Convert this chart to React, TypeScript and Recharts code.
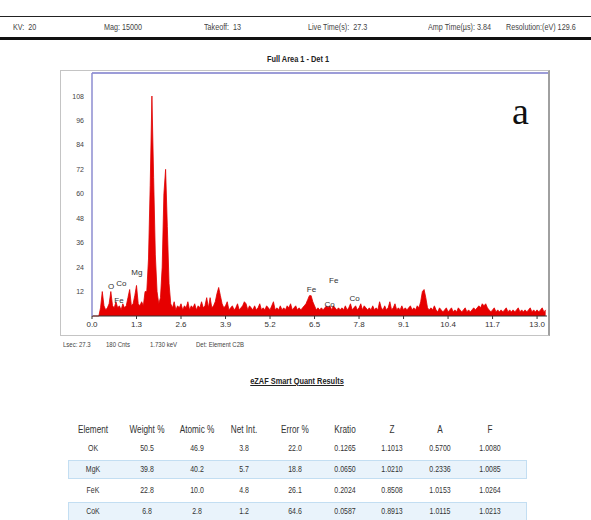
import { AreaChart, Area, XAxis, YAxis, ReferenceDot } from "recharts";

// EDS spectrum, one value per 0.05 keV channel
const channelWidth = 0.05;
const counts = [
  0, 0, 0, 0, 0, 4, 12, 5, 3, 4, 6, 12, 5, 4, 7, 4, 5, 3, 6, 4,
  5, 9, 13, 5, 6, 10, 15, 6, 5, 7, 5, 12, 12, 28, 64, 108, 68, 30, 12, 6,
  9, 24, 60, 72, 44, 16, 6, 4, 7, 3, 5, 4, 6, 3, 5, 4, 7, 3, 5, 4,
  6, 3, 5, 4, 7, 4, 5, 9, 4, 9, 4, 5, 7, 11, 14, 10, 6, 4, 5, 7,
  3, 4, 5, 3, 4, 6, 3, 4, 5, 7, 6, 3, 5, 4, 3, 5, 3, 4, 6, 3,
  4, 3, 5, 4, 3, 5, 7, 3, 4, 3, 5, 3, 4, 3, 5, 4, 6, 3, 4, 5,
  3, 4, 3, 4, 5, 6, 8, 10, 10, 7, 5, 3, 4, 3, 4, 3, 4, 5, 4, 5,
  3, 5, 4, 3, 4, 3, 4, 3, 5, 3, 4, 6, 3, 4, 5, 3, 4, 6, 3, 5,
  4, 3, 4, 3, 5, 3, 4, 3, 7, 4, 3, 5, 3, 4, 7, 3, 4, 6, 3, 4,
  3, 5, 3, 4, 3, 4, 5, 3, 4, 3, 5, 4, 7, 12, 13, 9, 4, 3, 4, 3,
  5, 3, 2, 4, 3, 2, 3, 4, 2, 3, 4, 2, 3, 2, 4, 3, 2, 3, 4, 2,
  3, 2, 3, 4, 3, 4, 5, 4, 6, 5, 6, 4, 3, 2, 3, 4, 2, 3, 2, 3,
  2, 3, 4, 2, 3, 2, 3, 2, 3, 4, 2, 3, 2, 3, 2, 3, 4, 2, 3, 2,
  3, 2, 3, 4, 2, 3,
];

const xTicks = [0, 1.3, 2.6, 3.9, 5.2, 6.5, 7.8, 9.1, 10.4, 11.7, 13.0];
const yTicks = [12, 24, 36, 48, 60, 72, 84, 96, 108];

const peakNames = ["O", "Co", "Fe", "Mg", "Fe", "Co", "Fe", "Co"];
const peakKeV = [0.56, 0.86, 0.79, 1.31, 6.41, 6.94, 7.06, 7.67];
const peakCnt = [14.5, 16, 8, 21.5, 13, 6, 17.6, 8.8];

const headerLabels = ["KV:  20", "Mag: 15000", "Takeoff:  13", "Live Time(s):  27.3", "Amp Time(µs): 3.84", "Resolution:(eV) 129.6"];
const footerLabels = ["Lsec: 27.3", "180 Cnts", "1.730 keV", "Det: Element C2B"];

const columns = ["Element", "Weight %", "Atomic %", "Net Int.", "Error %", "Kratio", "Z", "A", "F"];
const elements = ["OK", "MgK", "FeK", "CoK"];
const weightPct = ["50.5", "39.8", "22.8", "6.8"];
const atomicPct = ["46.9", "40.2", "10.0", "2.8"];
const netInt = ["3.8", "5.7", "4.8", "1.2"];
const errorPct = ["22.0", "18.8", "26.1", "64.6"];
const kratio = ["0.1265", "0.0650", "0.2024", "0.0587"];
const zFactor = ["1.1013", "1.0210", "0.8508", "0.8913"];
const aFactor = ["0.5700", "0.2336", "1.0153", "1.0115"];
const fFactor = ["1.0080", "1.0085", "1.0264", "1.0213"];

const spectrum = counts.map((c, i) => ({ keV: +(i * channelWidth).toFixed(2), cnt: c }));

const font = "'Liberation Sans', Arial, sans-serif";
const narrow = { transform: "scaleX(0.8)", transformOrigin: "left center" } as const;
const narrowC = { transform: "scaleX(0.82)", transformOrigin: "center center" } as const;
const headerX = [13, 104, 204, 308, 428, 506];
const footerX = [63, 106, 150, 196];
const colX = [93, 147, 197, 244, 295, 345, 392, 440, 490];
const rowY = [449, 470, 491, 512];

export default function App() {
  const rows = elements.map((el, i) => [
    el, weightPct[i], atomicPct[i], netInt[i], errorPct[i], kratio[i], zFactor[i], aFactor[i], fFactor[i],
  ]);

  return (
    <div
      style={{
        position: "absolute",
        left: 0,
        top: 0,
        width: 591,
        height: 520,
        background: "#fff",
        overflow: "hidden",
        fontFamily: font,
        color: "#333",
      }}
    >
      {/* header strip */}
      <div style={{ position: "absolute", left: 0, top: 16, width: 591, borderTop: "1.5px solid #222" }} />
      <div style={{ position: "absolute", left: 0, top: 37, width: 591, borderTop: "3px solid #111" }} />
      {headerLabels.map((t, i) => (
        <div
          key={t}
          style={{ position: "absolute", left: headerX[i], top: 22, fontSize: 9, whiteSpace: "pre", color: "#444", ...narrow }}
        >
          {t}
        </div>
      ))}

      <div
        style={{
          position: "absolute",
          left: 0,
          width: 596,
          top: 54,
          textAlign: "center",
          fontSize: 9,
          fontWeight: "bold",
          color: "#222",
          ...narrowC,
        }}
      >
        Full Area 1 - Det 1
      </div>

      {/* spectrum frame */}
      <div
        style={{
          position: "absolute",
          left: 60,
          top: 70,
          width: 487,
          height: 264,
          border: "1px solid #c4c4c4",
          borderRight: "2px solid #a0a0a0",
        }}
      />
      <div style={{ position: "absolute", left: 92, top: 72, width: 456, borderTop: "2px solid #9c9cd8" }} />

      <div style={{ position: "absolute", left: 0, top: 0 }}>
        <AreaChart width={591} height={340} data={spectrum} margin={{ top: 73, right: 44, bottom: 5, left: 60 }}>
          <XAxis
            dataKey="keV"
            type="number"
            domain={[0, 13.29]}
            ticks={xTicks}
            tickFormatter={(v: number) => v.toFixed(1)}
            height={19}
            stroke="#333"
            tick={{ fontSize: 8, fill: "#333", fontFamily: font }}
            tickSize={3}
            interval={0}
          />
          <YAxis
            type="number"
            domain={[0, 119.3]}
            ticks={yTicks}
            width={32}
            axisLine={{ stroke: "#8c8cd0", strokeWidth: 1.5 }}
            tickLine={false}
            tick={{ fontSize: 7, fill: "#444", fontFamily: font }}
            interval={0}
          />
          <Area
            type="linear"
            dataKey="cnt"
            stroke="#e00000"
            strokeWidth={0.8}
            fill="#e60000"
            fillOpacity={1}
            isAnimationActive={false}
            dot={false}
            activeDot={false}
          />
          {peakNames.map((n, i) => (
            <ReferenceDot
              key={n + i}
              x={peakKeV[i]}
              y={peakCnt[i]}
              r={0}
              fill="none"
              stroke="none"
              ifOverflow="visible"
              label={{ value: n, position: "center", fontSize: 8, fill: "#333", fontFamily: font }}
            />
          ))}
        </AreaChart>
      </div>

      <div
        style={{
          position: "absolute",
          left: 512,
          top: 92,
          fontSize: 38,
          fontFamily: "'Liberation Serif', 'DejaVu Serif', serif",
          color: "#111",
          lineHeight: 1,
        }}
      >
        a
      </div>

      {footerLabels.map((t, i) => (
        <div key={t} style={{ position: "absolute", left: footerX[i], top: 340, fontSize: 7.5, color: "#444", ...narrow }}>
          {t}
        </div>
      ))}

      {/* quant results table */}
      <div
        style={{
          position: "absolute",
          left: 0,
          width: 594,
          top: 376,
          textAlign: "center",
          fontSize: 9,
          fontWeight: "bold",
          textDecoration: "underline",
          color: "#222",
          ...narrowC,
        }}
      >
        eZAF Smart Quant Results
      </div>

      {[1, 3].map((r) => (
        <div
          key={r}
          style={{
            position: "absolute",
            left: 68,
            top: rowY[r] - 10,
            width: 459,
            height: 19,
            background: "#e9f3fb",
            border: "1px solid #c3def2",
            boxSizing: "border-box",
          }}
        />
      ))}

      {columns.map((c, j) => (
        <div
          key={c}
          style={{
            position: "absolute",
            left: colX[j] - 30,
            width: 60,
            top: 424,
            textAlign: "center",
            fontSize: 10,
            color: "#333",
            ...narrowC,
          }}
        >
          {c}
        </div>
      ))}
      {rows.map((row, i) =>
        row.map((v, j) => (
          <div
            key={i + "-" + j}
            style={{
              position: "absolute",
              left: colX[j] - 30,
              width: 60,
              top: rowY[i] - 6,
              textAlign: "center",
              fontSize: 8.5,
              color: "#333",
              ...narrowC,
            }}
          >
            {v}
          </div>
        ))
      )}
    </div>
  );
}
